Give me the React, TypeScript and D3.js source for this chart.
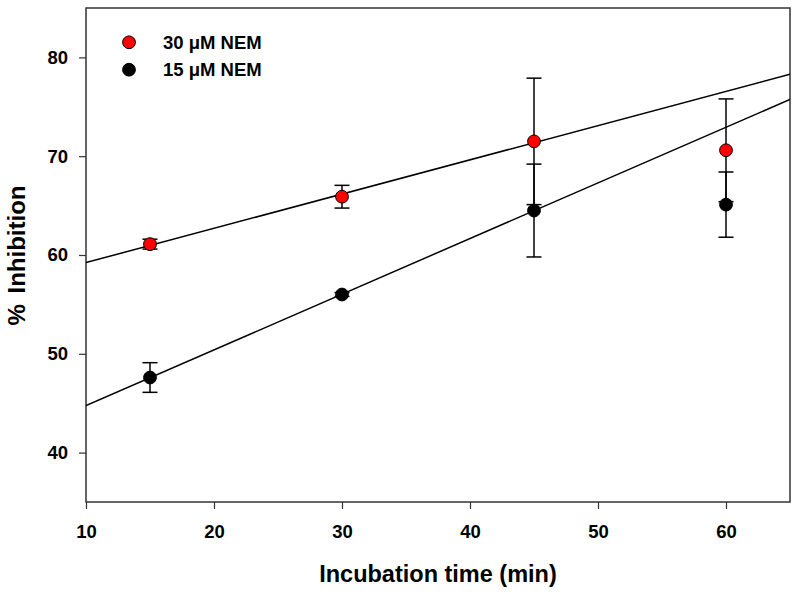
import React, { useEffect, useRef } from 'react';
import * as d3 from 'd3';

// incubation time (min)
const times = [15, 30, 45, 60];

// 30 uM NEM
const nem30 = [61.1, 65.9, 71.5, 70.6];
const nem30Err = [0.5, 1.15, 6.4, 5.2];

// 15 uM NEM
const nem15 = [47.6, 56.0, 64.5, 65.1];
const nem15Err = [1.5, 0.2, 4.7, 3.3];

const xTicks = [10, 20, 30, 40, 50, 60];
const yTicks = [40, 50, 60, 70, 80];

// regression uses the first three time points only
const FIT_POINTS = 3;

const series = [
  { name: '30 \u03bcM NEM', values: nem30, errors: nem30Err, fill: '#ff0000' },
  { name: '15 \u03bcM NEM', values: nem15, errors: nem15Err, fill: '#000000' },
];

function linearFit(xs: number[], ys: number[]) {
  const n = xs.length;
  const mx = d3.mean(xs)!;
  const my = d3.mean(ys)!;
  let sxy = 0, sxx = 0;
  for (let i = 0; i < n; i++) {
    sxy += (xs[i] - mx) * (ys[i] - my);
    sxx += (xs[i] - mx) ** 2;
  }
  const slope = sxy / sxx;
  return { slope, intercept: my - slope * mx };
}

const App: React.FC = () => {
  const svgRef = useRef<SVGSVGElement>(null);

  useEffect(() => {
    if (!svgRef.current) return;
    const width = 800;
    const height = 595;
    const margin = { top: 8, right: 10, bottom: 93, left: 86 };
    const innerWidth = width - margin.left - margin.right;
    const innerHeight = height - margin.top - margin.bottom;

    const svg = d3.select(svgRef.current);
    svg.selectAll('*').remove();

    const g = svg.append('g').attr('transform', `translate(${margin.left},${margin.top})`);

    const xScale = d3.scaleLinear().domain([10, 65]).range([0, innerWidth]);
    const yScale = d3.scaleLinear().domain([35, 85]).range([innerHeight, 0]);

    const font = 'Arial, "Liberation Sans", Helvetica, sans-serif';
    const axisColor = '#333333';

    // frame
    g.append('rect')
      .attr('x', 0)
      .attr('y', 0)
      .attr('width', innerWidth)
      .attr('height', innerHeight)
      .attr('fill', 'none')
      .attr('stroke', axisColor)
      .attr('stroke-width', 1.5);

    // x axis
    const xAxis = g.append('g')
      .attr('transform', `translate(0,${innerHeight})`)
      .call(d3.axisBottom(xScale).tickValues(xTicks).tickSize(7).tickPadding(16).tickFormat(d3.format('d')));
    xAxis.select('.domain').remove();
    xAxis.selectAll('line').attr('stroke', axisColor).attr('stroke-width', 1.2);
    xAxis.selectAll('text')
      .attr('font-family', font)
      .attr('font-size', 18.5)
      .attr('font-weight', 'bold')
      .attr('fill', '#000');

    // y axis
    const yAxis = g.append('g')
      .call(d3.axisLeft(yScale).tickValues(yTicks).tickSize(7).tickPadding(11).tickFormat(d3.format('d')));
    yAxis.select('.domain').remove();
    yAxis.selectAll('line').attr('stroke', axisColor).attr('stroke-width', 1.2);
    yAxis.selectAll('text')
      .attr('font-family', font)
      .attr('font-size', 18.5)
      .attr('font-weight', 'bold')
      .attr('fill', '#000');

    // axis titles
    svg.append('text')
      .attr('x', 438)
      .attr('y', 582)
      .attr('text-anchor', 'middle')
      .attr('font-family', font)
      .attr('font-size', 23.5)
      .attr('font-weight', 'bold')
      .text('Incubation time (min)');

    svg.append('text')
      .attr('transform', 'translate(25,255.5) rotate(-90)')
      .attr('text-anchor', 'middle')
      .attr('font-family', font)
      .attr('font-size', 24)
      .attr('font-weight', 'bold')
      .attr('word-spacing', 4)
      .text('% Inhibition');

    const clip = g.append('clipPath').attr('id', 'plot-clip');
    clip.append('rect').attr('width', innerWidth).attr('height', innerHeight);

    // regression lines
    series.forEach(s => {
      const fit = linearFit(times.slice(0, FIT_POINTS), s.values.slice(0, FIT_POINTS));
      const [x0, x1] = xScale.domain();
      g.append('line')
        .attr('clip-path', 'url(#plot-clip)')
        .attr('x1', xScale(x0))
        .attr('y1', yScale(fit.intercept + fit.slope * x0))
        .attr('x2', xScale(x1))
        .attr('y2', yScale(fit.intercept + fit.slope * x1))
        .attr('stroke', '#000')
        .attr('stroke-width', 1.5);
    });

    // error bars + points
    const capHalf = 7.5;
    series.forEach(s => {
      const pts = times.map((t, i) => ({ t, v: s.values[i], e: s.errors[i] }));
      const eg = g.append('g');
      pts.forEach(p => {
        const cx = xScale(p.t);
        const yTop = yScale(p.v + p.e);
        const yBot = yScale(p.v - p.e);
        eg.append('line').attr('x1', cx).attr('x2', cx).attr('y1', yTop).attr('y2', yBot)
          .attr('stroke', '#000').attr('stroke-width', 1.5);
        [yTop, yBot].forEach(yy => {
          eg.append('line').attr('x1', cx - capHalf).attr('x2', cx + capHalf).attr('y1', yy).attr('y2', yy)
            .attr('stroke', '#000').attr('stroke-width', 1.5);
        });
      });
    });

    series.forEach(s => {
      g.selectAll(null)
        .data(times.map((t, i) => ({ t, v: s.values[i] })))
        .join('circle')
        .attr('cx', d => xScale(d.t))
        .attr('cy', d => yScale(d.v))
        .attr('r', 6.4)
        .attr('fill', s.fill)
        .attr('stroke', '#000')
        .attr('stroke-width', 1);
    });

    // legend
    const legend = g.append('g').attr('transform', 'translate(43,34.3)');
    series.forEach((s, i) => {
      const row = legend.append('g').attr('transform', `translate(0,${i * 27.4})`);
      row.append('circle').attr('r', 6.4).attr('fill', s.fill).attr('stroke', '#000').attr('stroke-width', 1);
      row.append('text')
        .attr('x', 34)
        .attr('y', 6.5)
        .attr('font-family', font)
        .attr('font-size', 18.5)
        .attr('font-weight', 'bold')
        .text(s.name);
    });
  }, []);

  return (
    <svg
      ref={svgRef}
      width={800}
      height={595}
      viewBox="0 0 800 595"
      style={{ position: 'absolute', left: 0, top: 0, background: '#fff', display: 'block' }}
    />
  );
};

export default App;
